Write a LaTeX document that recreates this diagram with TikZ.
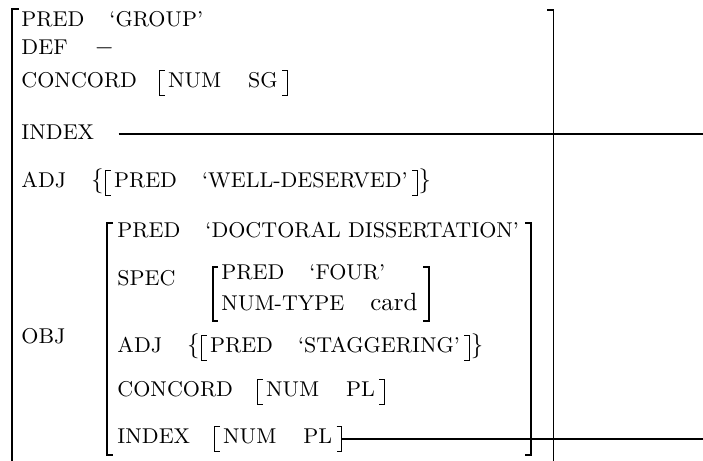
\documentclass[tikz,border=0pt]{standalone}
\usetikzlibrary{calc}
\begin{document}
\begin{tikzpicture}[x=0.4016pt,y=-0.4016pt,
  t/.style={inner sep=0pt, anchor=base west, font=\fontsize{8.6}{10}\selectfont},
  rm/.style={inner sep=0pt, anchor=base west, font=\normalfont},
  bigbr/.style={line width=0.8pt},
  midbr/.style={line width=0.55pt},
  conn/.style={line width=0.45pt},
  lbrk/.pic={\draw[line width=0.4pt] (5,-17) -- (0,-17) -- (0,8) -- (5,8);},
  rbrk/.pic={\draw[line width=0.4pt] (-5,-17) -- (0,-17) -- (0,8) -- (-5,8);}]
\useasboundingbox (0,0) rectangle (703,461);
\coordinate (edge) at (703,0);
% ---------- outer brackets
\draw[bigbr] (19,9) -- (12,9) -- (12,470);
\draw[bigbr] (547,10) -- (553.5,10) -- (553.5,470);
% ---------- outer rows
\node[t] (a1) at (21,27) {PRED};
\path (a1.base east) ++(24,0) node[t] (v1) {‘GROUP’};
\node[t] (a2) at (21,55) {DEF};
\path (a2.base east) ++(26,0) node[rm] (v2) {$-$};
\node[t] (a3) at (21,88) {CONCORD};
\path (a3.base east) ++(22,0) coordinate (l3) pic {lbrk};
\path (l3) ++(8,0) node[t] (n3) {NUM};
\path (n3.base east) ++(26,0) node[t] (s3) {SG};
\path (s3.base east) ++(9,0) coordinate (r3) pic {rbrk};
\node[t] (a4) at (21,140) {INDEX};
\path (a4.base east) ++(24,-6) coordinate (l4);
\draw[conn] (l4) -- (l4 -| edge);
\node[t] (a5) at (21,188) {ADJ};
\path (a5.base east) ++(24,0) node[rm] (c5l) {$\{$};
\path (c5l.base west) ++(15,0) coordinate (b5) pic {lbrk};
\path (b5) ++(8,0) node[t] (p5) {PRED};
\path (p5.base east) ++(24,0) node[t] (v5) {‘WELL-DESERVED’};
\path (v5.base east) ++(9,0) coordinate (r5) pic {rbrk};
\path (r5) ++(1,0) node[rm] (c5r) {$\}$};
\node[t] (obj) at (21,344) {OBJ};
% ---------- OBJ brackets
\draw[bigbr] (113,223) -- (107,223) -- (107,455) -- (113,455);
\draw[bigbr] (525,223) -- (531,223) -- (531,455) -- (525,455);
% ---------- inner rows
\node[t] (i1) at (117,238) {PRED};
\path (i1.base east) ++(24,0) node[t] (iv1) {‘DOCTORAL DISSERTATION’};
\node[t] (i2) at (117,286) {SPEC};
\draw[midbr] (218,267) -- (213,267) -- (213,321) -- (218,321);
\draw[midbr] (423,267) -- (429,267) -- (429,321) -- (423,321);
\node[t] (sp) at (221,280) {PRED};
\path (sp.base east) ++(24,0) node[t] (spv) {‘FOUR’};
\node[t] (sn) at (221,311) {NUM-TYPE};
\path (sn.base east) ++(25,0) node[rm] (snv) {card};
\node[t] (i3) at (117,353) {ADJ};
\path (i3.base east) ++(24,0) node[rm] (ic3l) {$\{$};
\path (ic3l.base west) ++(15,0) coordinate (ib3) pic {lbrk};
\path (ib3) ++(8,0) node[t] (ip3) {PRED};
\path (ip3.base east) ++(24,0) node[t] (iv3) {‘STAGGERING’};
\path (iv3.base east) ++(9,0) coordinate (ir3) pic {rbrk};
\path (ir3) ++(1,0) node[rm] (ic3r) {$\}$};
\node[t] (i4) at (117,397) {CONCORD};
\path (i4.base east) ++(24,0) coordinate (ib4) pic {lbrk};
\path (ib4) ++(8,0) node[t] (in4) {NUM};
\path (in4.base east) ++(26,0) node[t] (ipl4) {PL};
\path (ipl4.base east) ++(9,0) pic {rbrk};
\node[t] (i5) at (117,444) {INDEX};
\path (i5.base east) ++(24,0) coordinate (ib5) pic {lbrk};
\path (ib5) ++(8,0) node[t] (in5) {NUM};
\path (in5.base east) ++(26,0) node[t] (ipl5) {PL};
\path (ipl5.base east) ++(9,0) coordinate (ir5) pic {rbrk};
\path (ir5) ++(0,-5) coordinate (l5);
\draw[conn] (l5) -- (l5 -| edge);
\end{tikzpicture}
\end{document}
